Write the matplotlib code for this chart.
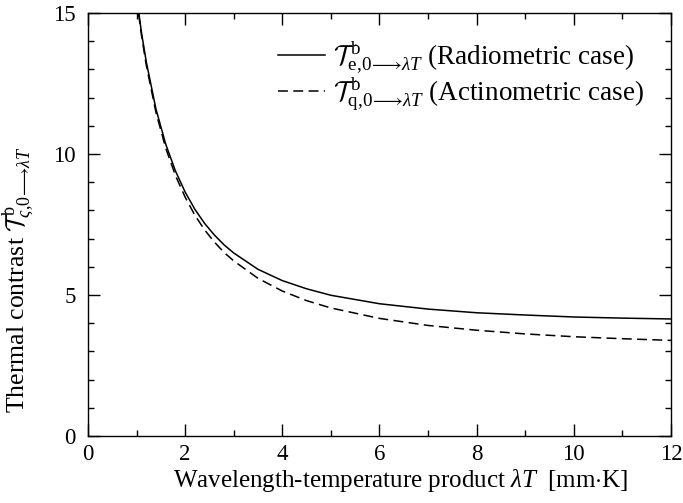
import matplotlib
matplotlib.use("Agg")
import matplotlib.pyplot as plt
from matplotlib.ticker import MultipleLocator

plt.rcParams["font.family"] = ["Liberation Serif", "DejaVu Serif"]
plt.rcParams["mathtext.fontset"] = "custom"
plt.rcParams["mathtext.rm"] = "Liberation Serif"
plt.rcParams["mathtext.it"] = "Liberation Serif:italic"
plt.rcParams["mathtext.bf"] = "Liberation Serif:bold"
plt.rcParams["mathtext.cal"] = "cmsy10"
plt.rcParams["font.size"] = 16

# wavelength-temperature product [mm K]
lam_T = [1.0, 1.1, 1.2, 1.4, 1.6, 1.8, 2.0, 2.2, 2.4, 2.6, 2.8, 3.0,
         3.5, 4.0, 4.5, 5.0, 6.0, 7.0, 8.0, 9.0, 10.0, 11.0, 12.0]
# radiometric thermal contrast
radiometric = [15.61, 14.32, 13.27, 11.59, 10.35, 9.40, 8.65, 8.04, 7.54, 7.13, 6.78, 6.49,
               5.91, 5.51, 5.22, 4.99, 4.69, 4.50, 4.37, 4.29, 4.22, 4.18, 4.15]
# actinometric thermal contrast
actinometric = [15.50, 14.23, 13.15, 11.47, 10.21, 9.24, 8.47, 7.83, 7.31, 6.88, 6.51, 6.21,
                5.59, 5.14, 4.80, 4.54, 4.17, 3.92, 3.75, 3.62, 3.52, 3.45, 3.39]

fig = plt.figure(figsize=(6.83, 5.03), dpi=100)
ax = fig.add_axes([0.1288, 0.1332, 0.8536, 0.841])

ax.plot(lam_T, radiometric, color="black", lw=1.1,
        label=r"$\mathcal{T}^{\,\mathrm{b}}_{\mathrm{e{,}0}\!\longrightarrow\!\lambda T}$ (Radiometric case)")
ax.plot(lam_T, actinometric, color="black", lw=1.1, dashes=(6.5, 3.5),
        label=r"$\mathcal{T}^{\,\mathrm{b}}_{\mathrm{q{,}0}\!\longrightarrow\!\lambda T}$ (Actinometric case)")

ax.set_xlim(0, 12)
ax.set_ylim(0, 15)
ax.xaxis.set_major_locator(MultipleLocator(2))
ax.xaxis.set_minor_locator(MultipleLocator(1))
ax.yaxis.set_major_locator(MultipleLocator(5))
ax.yaxis.set_minor_locator(MultipleLocator(1))
ax.tick_params(which="both", direction="in", top=True, right=True, width=1.0)
ax.tick_params(which="major", length=8.5, labelsize=16.5)
ax.tick_params(axis="x", which="major", pad=6)
ax.tick_params(axis="y", which="major", pad=9)
ax.tick_params(which="minor", length=4.5)
for s in ax.spines.values():
    s.set_linewidth(1.0)

ax.set_xlabel(r"Wavelength-temperature product $\lambda T$  [mm$\cdot$K]", fontsize=18)
ax.xaxis.set_label_coords(0.537, -0.073)
ax.set_ylabel(r"Thermal contrast $\mathcal{T}^{\,\mathrm{b}}_{\varsigma{,}0\!\longrightarrow\!\lambda T}$",
              fontsize=18.5)
ax.yaxis.set_label_coords(-0.088, 0.37)

ax.legend(loc="upper right", bbox_to_anchor=(0.954, 0.938), frameon=False, fontsize=19.5,
          handlelength=1.75, labelspacing=-0.02, borderaxespad=0, borderpad=0,
          handletextpad=0.3)

fig.savefig("out.png", dpi=100)
